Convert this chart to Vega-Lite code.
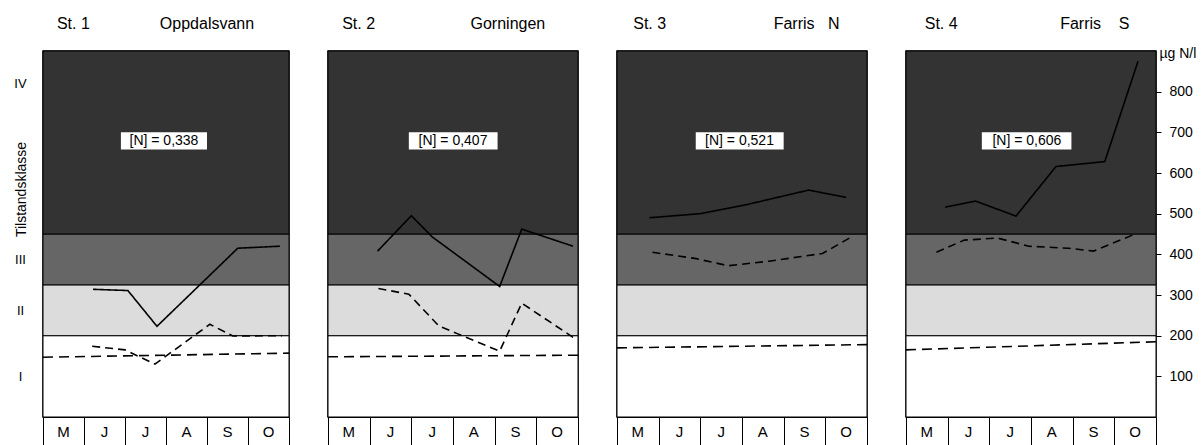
{
  "$schema": "https://vega.github.io/schema/vega-lite/v6.json",
  "background": "white",
  "padding": {"left": 13, "top": 15, "right": 0, "bottom": 0},
  "spacing": 31,
  "config": {
    "font": "Liberation Sans",
    "view": {"stroke": "black", "strokeWidth": 1.5},
    "axis": {"labelColor": "black", "titleColor": "black", "tickColor": "black", "domainColor": "black", "grid": false, "titleFontWeight": "normal"}
  },
  "datasets": {
    "classes": [
      {"cls": "I", "lo": 0, "hi": 200},
      {"cls": "II", "lo": 200, "hi": 325},
      {"cls": "III", "lo": 325, "hi": 450},
      {"cls": "IV", "lo": 450, "hi": 900}
    ],
    "months": [
      {"mo": "M", "c": 0.5},
      {"mo": "J", "c": 1.5},
      {"mo": "J", "c": 2.5},
      {"mo": "A", "c": 3.5},
      {"mo": "S", "c": 4.5},
      {"mo": "O", "c": 5.5}
    ],
    "panels": [
      {"panel": 1, "st": "St. 1", "name": "Oppdalsvann", "n": "[N] = 0,338"},
      {"panel": 2, "st": "St. 2", "name": "Gorningen", "n": "[N] = 0,407"},
      {"panel": 3, "st": "St. 3", "name": "Farris\u00a0\u00a0\u00a0N", "n": "[N] = 0,521"},
      {"panel": 4, "st": "St. 4", "name": "Farris\u00a0\u00a0\u00a0\u00a0S", "n": "[N] = 0,606"}
    ],
    "lines": [
      {"panel": 1, "series": "solid", "m": 1.22, "v": 314},
      {"panel": 1, "series": "solid", "m": 2.07, "v": 311},
      {"panel": 1, "series": "solid", "m": 2.78, "v": 223},
      {"panel": 1, "series": "solid", "m": 4.75, "v": 415},
      {"panel": 1, "series": "solid", "m": 5.78, "v": 420},
      {"panel": 1, "series": "dashed", "m": 1.2, "v": 174},
      {"panel": 1, "series": "dashed", "m": 2.0, "v": 165},
      {"panel": 1, "series": "dashed", "m": 2.73, "v": 130},
      {"panel": 1, "series": "dashed", "m": 4.07, "v": 228},
      {"panel": 1, "series": "dashed", "m": 4.63, "v": 199},
      {"panel": 1, "series": "dashed", "m": 5.83, "v": 200},
      {"panel": 1, "series": "ref", "m": 0, "v": 147},
      {"panel": 1, "series": "ref", "m": 6, "v": 157},
      {"panel": 2, "series": "solid", "m": 1.19, "v": 408},
      {"panel": 2, "series": "solid", "m": 2.0, "v": 495},
      {"panel": 2, "series": "solid", "m": 2.5, "v": 443},
      {"panel": 2, "series": "solid", "m": 4.12, "v": 321},
      {"panel": 2, "series": "solid", "m": 4.65, "v": 462},
      {"panel": 2, "series": "solid", "m": 5.88, "v": 420},
      {"panel": 2, "series": "dashed", "m": 1.21, "v": 316},
      {"panel": 2, "series": "dashed", "m": 1.94, "v": 302},
      {"panel": 2, "series": "dashed", "m": 2.66, "v": 224},
      {"panel": 2, "series": "dashed", "m": 3.1, "v": 205},
      {"panel": 2, "series": "dashed", "m": 4.12, "v": 162},
      {"panel": 2, "series": "dashed", "m": 4.65, "v": 280},
      {"panel": 2, "series": "dashed", "m": 5.88, "v": 196},
      {"panel": 2, "series": "ref", "m": 0, "v": 148},
      {"panel": 2, "series": "ref", "m": 6, "v": 152},
      {"panel": 3, "series": "solid", "m": 0.78, "v": 490},
      {"panel": 3, "series": "solid", "m": 2.0, "v": 500},
      {"panel": 3, "series": "solid", "m": 3.1, "v": 522},
      {"panel": 3, "series": "solid", "m": 4.6, "v": 558},
      {"panel": 3, "series": "solid", "m": 5.5, "v": 540},
      {"panel": 3, "series": "dashed", "m": 0.85, "v": 405},
      {"panel": 3, "series": "dashed", "m": 1.87, "v": 390},
      {"panel": 3, "series": "dashed", "m": 2.67, "v": 372},
      {"panel": 3, "series": "dashed", "m": 3.64, "v": 383},
      {"panel": 3, "series": "dashed", "m": 4.93, "v": 402},
      {"panel": 3, "series": "dashed", "m": 5.58, "v": 440},
      {"panel": 3, "series": "ref", "m": 0, "v": 170},
      {"panel": 3, "series": "ref", "m": 6, "v": 178},
      {"panel": 4, "series": "solid", "m": 0.94, "v": 516},
      {"panel": 4, "series": "solid", "m": 1.67, "v": 531},
      {"panel": 4, "series": "solid", "m": 2.64, "v": 494},
      {"panel": 4, "series": "solid", "m": 3.6, "v": 616},
      {"panel": 4, "series": "solid", "m": 4.77, "v": 628},
      {"panel": 4, "series": "solid", "m": 5.57, "v": 875},
      {"panel": 4, "series": "dashed", "m": 0.73, "v": 405},
      {"panel": 4, "series": "dashed", "m": 1.4, "v": 435},
      {"panel": 4, "series": "dashed", "m": 2.2, "v": 440},
      {"panel": 4, "series": "dashed", "m": 2.95, "v": 420},
      {"panel": 4, "series": "dashed", "m": 3.9, "v": 415},
      {"panel": 4, "series": "dashed", "m": 4.5, "v": 408},
      {"panel": 4, "series": "dashed", "m": 5.5, "v": 450},
      {"panel": 4, "series": "ref", "m": 0, "v": 165},
      {"panel": 4, "series": "ref", "m": 6, "v": 185}
    ]
  },
  "hconcat": [
    {
      "width": 246, "height": 366,
      "layer": [
        {"data": {"name": "classes"}, "mark": {"type": "rect", "stroke": "black", "strokeWidth": 1},
         "encoding": {
           "y": {"field": "lo", "type": "quantitative", "scale": {"domain": [0, 900], "nice": false},
                 "axis": {"values": [100, 262, 387, 820], "labelExpr": "datum.value < 150 ? 'I' : datum.value < 300 ? 'II' : datum.value < 500 ? 'III' : 'IV'", "ticks": false, "domain": false, "labelAlign": "center", "labelPadding": 23, "labelFontSize": 13, "title": "Tilstandsklasse", "titleX": -22, "titleY": 138, "titleAngle": -90, "titleAlign": "center", "titleBaseline": "middle", "titleFontSize": 14}},
           "y2": {"field": "hi"},
           "fill": {"field": "cls", "type": "nominal", "scale": {"domain": ["I", "II", "III", "IV"], "range": ["#ffffff", "#dcdcdc", "#666666", "#333333"]}, "legend": null}}},
        {"data": {"name": "lines"}, "transform": [{"filter": "datum.panel == 1"}],
         "mark": {"type": "line", "color": "black", "strokeWidth": 1.6},
         "encoding": {
           "x": {"field": "m", "type": "quantitative", "scale": {"domain": [0, 6], "nice": false, "zero": false},
                 "axis": {"values": [0, 1, 2, 3, 4, 5, 6], "labels": false, "tickSize": 30, "tickWidth": 1, "title": null}},
           "y": {"field": "v", "type": "quantitative", "scale": {"domain": [0, 900], "nice": false}},
           "strokeDash": {"field": "series", "type": "nominal", "scale": {"domain": ["solid", "dashed", "ref"], "range": [[1, 0], [8, 5], [10, 6]]}, "legend": null}}},
        {"data": {"name": "months"},
         "mark": {"type": "text", "fontSize": 15, "align": "center", "baseline": "middle", "color": "black"},
         "encoding": {"x": {"field": "c", "type": "quantitative"}, "y": {"datum": -36, "type": "quantitative", "scale": {"domain": [0, 900], "nice": false}}, "text": {"field": "mo"}}},
        {"data": {"name": "panels"}, "transform": [{"filter": "datum.panel == 1"}],
         "layer": [
           {"mark": {"type": "rect", "fill": "white"},
            "encoding": {"x": {"datum": 1.9, "type": "quantitative"}, "x2": {"datum": 4.0}, "y": {"datum": 658, "type": "quantitative", "scale": {"domain": [0, 900], "nice": false}}, "y2": {"datum": 700}}},
           {"mark": {"type": "text", "fontSize": 14, "align": "center", "baseline": "middle", "color": "black"},
            "encoding": {"x": {"datum": 2.95, "type": "quantitative"}, "y": {"datum": 679, "type": "quantitative", "scale": {"domain": [0, 900], "nice": false}}, "text": {"field": "n"}}},
           {"mark": {"type": "text", "fontSize": 16, "align": "left", "baseline": "middle", "color": "black"},
            "encoding": {"x": {"datum": 0.34, "type": "quantitative"}, "y": {"datum": 966, "type": "quantitative", "scale": {"domain": [0, 900], "nice": false}}, "text": {"field": "st"}}},
           {"mark": {"type": "text", "fontSize": 16, "align": "left", "baseline": "middle", "color": "black"},
            "encoding": {"x": {"datum": 2.85, "type": "quantitative"}, "y": {"datum": 966, "type": "quantitative", "scale": {"domain": [0, 900], "nice": false}}, "text": {"field": "name"}}}
         ]}
      ]
    },
    {
      "width": 250, "height": 366,
      "layer": [
        {"data": {"name": "classes"}, "mark": {"type": "rect", "stroke": "black", "strokeWidth": 1},
         "encoding": {
           "y": {"field": "lo", "type": "quantitative", "scale": {"domain": [0, 900], "nice": false}, "axis": null},
           "y2": {"field": "hi"},
           "fill": {"field": "cls", "type": "nominal", "scale": {"domain": ["I", "II", "III", "IV"], "range": ["#ffffff", "#dcdcdc", "#666666", "#333333"]}, "legend": null}}},
        {"data": {"name": "lines"}, "transform": [{"filter": "datum.panel == 2"}],
         "mark": {"type": "line", "color": "black", "strokeWidth": 1.6},
         "encoding": {
           "x": {"field": "m", "type": "quantitative", "scale": {"domain": [0, 6], "nice": false, "zero": false},
                 "axis": {"values": [0, 1, 2, 3, 4, 5, 6], "labels": false, "tickSize": 30, "tickWidth": 1, "title": null}},
           "y": {"field": "v", "type": "quantitative", "scale": {"domain": [0, 900], "nice": false}, "axis": null},
           "strokeDash": {"field": "series", "type": "nominal", "scale": {"domain": ["solid", "dashed", "ref"], "range": [[1, 0], [8, 5], [10, 6]]}, "legend": null}}},
        {"data": {"name": "months"},
         "mark": {"type": "text", "fontSize": 15, "align": "center", "baseline": "middle", "color": "black"},
         "encoding": {"x": {"field": "c", "type": "quantitative"}, "y": {"datum": -36, "type": "quantitative", "scale": {"domain": [0, 900], "nice": false}, "axis": null}, "text": {"field": "mo"}}},
        {"data": {"name": "panels"}, "transform": [{"filter": "datum.panel == 2"}],
         "layer": [
           {"mark": {"type": "rect", "fill": "white"},
            "encoding": {"x": {"datum": 1.94, "type": "quantitative"}, "x2": {"datum": 4.07}, "y": {"datum": 658, "type": "quantitative", "scale": {"domain": [0, 900], "nice": false}, "axis": null}, "y2": {"datum": 700}}},
           {"mark": {"type": "text", "fontSize": 14, "align": "center", "baseline": "middle", "color": "black"},
            "encoding": {"x": {"datum": 3.0, "type": "quantitative"}, "y": {"datum": 679, "type": "quantitative", "scale": {"domain": [0, 900], "nice": false}, "axis": null}, "text": {"field": "n"}}},
           {"mark": {"type": "text", "fontSize": 16, "align": "left", "baseline": "middle", "color": "black"},
            "encoding": {"x": {"datum": 0.34, "type": "quantitative"}, "y": {"datum": 966, "type": "quantitative", "scale": {"domain": [0, 900], "nice": false}, "axis": null}, "text": {"field": "st"}}},
           {"mark": {"type": "text", "fontSize": 16, "align": "left", "baseline": "middle", "color": "black"},
            "encoding": {"x": {"datum": 3.42, "type": "quantitative"}, "y": {"datum": 966, "type": "quantitative", "scale": {"domain": [0, 900], "nice": false}, "axis": null}, "text": {"field": "name"}}}
         ]}
      ]
    },
    {
      "width": 250, "height": 366,
      "layer": [
        {"data": {"name": "classes"}, "mark": {"type": "rect", "stroke": "black", "strokeWidth": 1},
         "encoding": {
           "y": {"field": "lo", "type": "quantitative", "scale": {"domain": [0, 900], "nice": false}, "axis": null},
           "y2": {"field": "hi"},
           "fill": {"field": "cls", "type": "nominal", "scale": {"domain": ["I", "II", "III", "IV"], "range": ["#ffffff", "#dcdcdc", "#666666", "#333333"]}, "legend": null}}},
        {"data": {"name": "lines"}, "transform": [{"filter": "datum.panel == 3"}],
         "mark": {"type": "line", "color": "black", "strokeWidth": 1.6},
         "encoding": {
           "x": {"field": "m", "type": "quantitative", "scale": {"domain": [0, 6], "nice": false, "zero": false},
                 "axis": {"values": [0, 1, 2, 3, 4, 5, 6], "labels": false, "tickSize": 30, "tickWidth": 1, "title": null}},
           "y": {"field": "v", "type": "quantitative", "scale": {"domain": [0, 900], "nice": false}, "axis": null},
           "strokeDash": {"field": "series", "type": "nominal", "scale": {"domain": ["solid", "dashed", "ref"], "range": [[1, 0], [8, 5], [10, 6]]}, "legend": null}}},
        {"data": {"name": "months"},
         "mark": {"type": "text", "fontSize": 15, "align": "center", "baseline": "middle", "color": "black"},
         "encoding": {"x": {"field": "c", "type": "quantitative"}, "y": {"datum": -36, "type": "quantitative", "scale": {"domain": [0, 900], "nice": false}, "axis": null}, "text": {"field": "mo"}}},
        {"data": {"name": "panels"}, "transform": [{"filter": "datum.panel == 3"}],
         "layer": [
           {"mark": {"type": "rect", "fill": "white"},
            "encoding": {"x": {"datum": 1.89, "type": "quantitative"}, "x2": {"datum": 4.0}, "y": {"datum": 658, "type": "quantitative", "scale": {"domain": [0, 900], "nice": false}, "axis": null}, "y2": {"datum": 700}}},
           {"mark": {"type": "text", "fontSize": 14, "align": "center", "baseline": "middle", "color": "black"},
            "encoding": {"x": {"datum": 2.94, "type": "quantitative"}, "y": {"datum": 679, "type": "quantitative", "scale": {"domain": [0, 900], "nice": false}, "axis": null}, "text": {"field": "n"}}},
           {"mark": {"type": "text", "fontSize": 16, "align": "left", "baseline": "middle", "color": "black"},
            "encoding": {"x": {"datum": 0.39, "type": "quantitative"}, "y": {"datum": 966, "type": "quantitative", "scale": {"domain": [0, 900], "nice": false}, "axis": null}, "text": {"field": "st"}}},
           {"mark": {"type": "text", "fontSize": 16, "align": "left", "baseline": "middle", "color": "black"},
            "encoding": {"x": {"datum": 3.76, "type": "quantitative"}, "y": {"datum": 966, "type": "quantitative", "scale": {"domain": [0, 900], "nice": false}, "axis": null}, "text": {"field": "name"}}}
         ]}
      ]
    },
    {
      "width": 250, "height": 366,
      "layer": [
        {"data": {"name": "classes"}, "mark": {"type": "rect", "stroke": "black", "strokeWidth": 1},
         "encoding": {
           "y": {"field": "lo", "type": "quantitative", "scale": {"domain": [0, 900], "nice": false},
                 "axis": {"orient": "right", "values": [100, 200, 300, 400, 500, 600, 700, 800], "tickSize": 5, "tickWidth": 1, "domain": false, "labelPadding": 8, "labelFontSize": 14, "labelAlign": "left", "title": "µg N/l", "titleAngle": 0, "titleX": 3, "titleY": 2, "titleAlign": "left", "titleBaseline": "middle", "titleFontSize": 14}},
           "y2": {"field": "hi"},
           "fill": {"field": "cls", "type": "nominal", "scale": {"domain": ["I", "II", "III", "IV"], "range": ["#ffffff", "#dcdcdc", "#666666", "#333333"]}, "legend": null}}},
        {"data": {"name": "lines"}, "transform": [{"filter": "datum.panel == 4"}],
         "mark": {"type": "line", "color": "black", "strokeWidth": 1.6},
         "encoding": {
           "x": {"field": "m", "type": "quantitative", "scale": {"domain": [0, 6], "nice": false, "zero": false},
                 "axis": {"values": [0, 1, 2, 3, 4, 5, 6], "labels": false, "tickSize": 30, "tickWidth": 1, "title": null}},
           "y": {"field": "v", "type": "quantitative", "scale": {"domain": [0, 900], "nice": false}},
           "strokeDash": {"field": "series", "type": "nominal", "scale": {"domain": ["solid", "dashed", "ref"], "range": [[1, 0], [8, 5], [10, 6]]}, "legend": null}}},
        {"data": {"name": "months"},
         "mark": {"type": "text", "fontSize": 15, "align": "center", "baseline": "middle", "color": "black"},
         "encoding": {"x": {"field": "c", "type": "quantitative"}, "y": {"datum": -36, "type": "quantitative", "scale": {"domain": [0, 900], "nice": false}}, "text": {"field": "mo"}}},
        {"data": {"name": "panels"}, "transform": [{"filter": "datum.panel == 4"}],
         "layer": [
           {"mark": {"type": "rect", "fill": "white"},
            "encoding": {"x": {"datum": 1.82, "type": "quantitative"}, "x2": {"datum": 3.97}, "y": {"datum": 658, "type": "quantitative", "scale": {"domain": [0, 900], "nice": false}}, "y2": {"datum": 700}}},
           {"mark": {"type": "text", "fontSize": 14, "align": "center", "baseline": "middle", "color": "black"},
            "encoding": {"x": {"datum": 2.9, "type": "quantitative"}, "y": {"datum": 679, "type": "quantitative", "scale": {"domain": [0, 900], "nice": false}}, "text": {"field": "n"}}},
           {"mark": {"type": "text", "fontSize": 16, "align": "left", "baseline": "middle", "color": "black"},
            "encoding": {"x": {"datum": 0.45, "type": "quantitative"}, "y": {"datum": 966, "type": "quantitative", "scale": {"domain": [0, 900], "nice": false}}, "text": {"field": "st"}}},
           {"mark": {"type": "text", "fontSize": 16, "align": "left", "baseline": "middle", "color": "black"},
            "encoding": {"x": {"datum": 3.7, "type": "quantitative"}, "y": {"datum": 966, "type": "quantitative", "scale": {"domain": [0, 900], "nice": false}}, "text": {"field": "name"}}}
         ]}
      ]
    }
  ]
}
